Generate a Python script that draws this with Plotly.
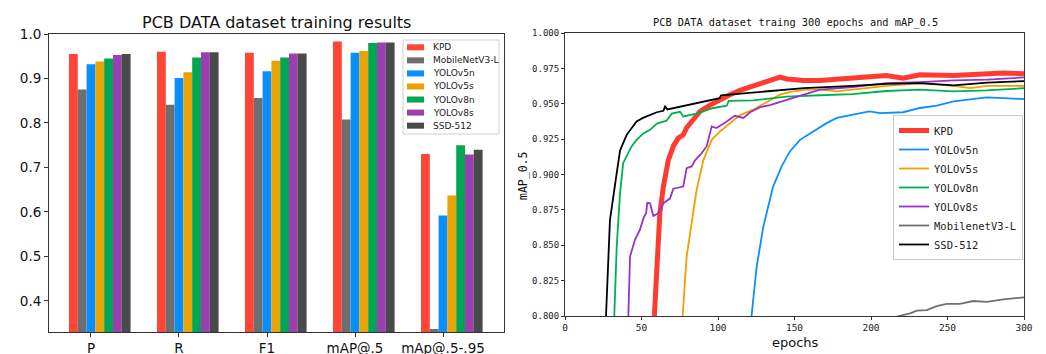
import plotly.graph_objects as go

# ---------------- Left chart data (bar) ----------------
metrics = ["P", "R", "F1", "mAP@.5", "mAp@.5-.95"]
bar_models = ["KPD", "MobileNetV3-L", "YOLOv5n", "YOLOv5s", "YOLOv8n", "YOLOv8s", "SSD-512"]
bar_kpd = [0.955, 0.960, 0.958, 0.983, 0.730]
bar_mobilenet = [0.875, 0.841, 0.856, 0.808, 0.337]
bar_yolov5n = [0.932, 0.901, 0.916, 0.958, 0.592]
bar_yolov5s = [0.938, 0.914, 0.940, 0.962, 0.637]
bar_yolov8n = [0.945, 0.947, 0.947, 0.980, 0.750]
bar_yolov8s = [0.953, 0.959, 0.956, 0.981, 0.729]
bar_ssd = [0.955, 0.959, 0.956, 0.981, 0.740]
bar_values = [bar_kpd, bar_mobilenet, bar_yolov5n, bar_yolov5s, bar_yolov8n, bar_yolov8s, bar_ssd]
bar_colors = ["#ff4636", "#6e6e6e", "#0a8fff", "#e8a202", "#00a651", "#9b3fb0", "#4a4a4a"]

# ---------------- Right chart data (lines) ----------------
ep_kpd = [56, 58.4, 62, 64.3, 67.5, 70.8, 74, 77.3, 79.5, 83.9, 88.2, 94.8, 101, 107.8, 114.4, 123,
          131.8, 140.5, 145, 156, 166.7, 188, 199, 210, 221, 232, 254, 276, 286.5, 300]
map_kpd = [0.77, 0.800, 0.8726, 0.8915, 0.910, 0.920, 0.9257, 0.928, 0.933, 0.9387, 0.9446, 0.949,
           0.953, 0.9564, 0.9594, 0.9627, 0.9658, 0.9689, 0.9675, 0.9665, 0.9665, 0.968, 0.9689,
           0.970, 0.968, 0.9705, 0.970, 0.9712, 0.9717, 0.9712]

ep_v5n = [119, 122, 125.3, 129.6, 136, 141.6, 147, 153.6, 162.3, 171, 177.6, 188.5, 199, 206, 221,
          232, 243, 254, 264.7, 275.6, 286.5, 300]
map_v5n = [0.77, 0.800, 0.835, 0.863, 0.8915, 0.9057, 0.9163, 0.9245, 0.9304, 0.9363, 0.940, 0.9422,
           0.9446, 0.9434, 0.944, 0.947, 0.9486, 0.9517, 0.953, 0.9545, 0.954, 0.9533]

ep_v5s = [74, 76.9, 79.5, 81.7, 86, 90.4, 95.9, 101.3, 107.8, 114.4, 123, 131.8, 140.5, 149, 158,
          166.7, 177.6, 188, 210, 232, 254, 264.7, 276, 300]
map_v5s = [0.77, 0.800, 0.842, 0.8585, 0.889, 0.910, 0.9245, 0.9304, 0.9363, 0.942, 0.9458, 0.951,
           0.9564, 0.9587, 0.960, 0.960, 0.9587, 0.960, 0.9627, 0.9646, 0.9627, 0.961, 0.9627, 0.9627]

ep_v8n = [30, 32.2, 33.8, 36, 38, 40.3, 43.6, 46.8, 51.2, 55.6, 60, 66.4, 69.7, 75.2, 77.3, 86, 97,
          105.7, 107, 123, 145, 166.7, 188, 210, 232, 254, 275.6, 300]
map_v8n = [0.77, 0.800, 0.849, 0.887, 0.908, 0.913, 0.920, 0.9245, 0.929, 0.9316, 0.936, 0.938,
           0.943, 0.9443, 0.941, 0.943, 0.947, 0.9486, 0.952, 0.9524, 0.955, 0.956, 0.9568, 0.959,
           0.960, 0.9587, 0.9594, 0.961]

ep_v8s = [39, 41.4, 42.5, 45.8, 49, 51.2, 53, 53.8, 55.6, 57.7, 61, 64.3, 68.6, 70.8, 77.3, 79.5,
          82.8, 85, 89.3, 92.6, 95.9, 99, 105.7, 111, 116.6, 121, 127.5, 134, 145, 155.8, 166.7,
          188, 199, 210, 232, 254, 276, 300]
map_v8s = [0.77, 0.800, 0.842, 0.854, 0.861, 0.869, 0.8726, 0.880, 0.8797, 0.8708, 0.8726, 0.8797,
           0.883, 0.890, 0.8915, 0.9045, 0.9057, 0.910, 0.915, 0.920, 0.934, 0.9328, 0.9375, 0.9415,
           0.940, 0.944, 0.9476, 0.949, 0.9528, 0.9564, 0.960, 0.9618, 0.9634, 0.9646, 0.9653,
           0.9665, 0.967, 0.9686]

ep_mob = [200, 218, 225.5, 230, 236.4, 243, 249.5, 258, 267, 275.6, 286.5, 300]
map_mob = [0.795, 0.800, 0.8019, 0.8038, 0.8042, 0.807, 0.8085, 0.8085, 0.8106, 0.810, 0.8118, 0.8132]

ep_ssd = [24, 26.8, 29.4, 31.5, 33.8, 36, 38, 40.3, 43, 46.8, 51, 55.6, 60, 64.3, 65.4, 67, 75, 84,
          92.6, 101, 102, 112, 134, 156, 188, 210, 232, 254, 276, 300]
map_ssd = [0.77, 0.800, 0.868, 0.885, 0.901, 0.917, 0.922, 0.928, 0.932, 0.9375, 0.940, 0.942,
           0.944, 0.945, 0.948, 0.946, 0.948, 0.950, 0.952, 0.954, 0.956, 0.957, 0.959, 0.961,
           0.9627, 0.964, 0.9646, 0.963, 0.965, 0.966]

line_series = [
    ("KPD", ep_kpd, map_kpd, "#ff3b30", 5),
    ("YOLOv5n", ep_v5n, map_v5n, "#0a8fff", 1.8),
    ("YOLOv5s", ep_v5s, map_v5s, "#f0a000", 1.8),
    ("YOLOv8n", ep_v8n, map_v8n, "#00b050", 1.8),
    ("YOLOv8s", ep_v8s, map_v8s, "#9932cc", 1.8),
    ("MobilenetV3-L", ep_mob, map_mob, "#707070", 1.8),
    ("SSD-512", ep_ssd, map_ssd, "#000000", 1.8),
]

# page body adds an 8px margin; figure is sized to fill the rest of the window
OFF = 8
W, H = 1046 - OFF, 354 - OFF


def px(x):
    return (x - OFF) / W


def py(y):
    return 1 - (y - OFF) / H


fig = go.Figure()

for i, (name, vals, col) in enumerate(zip(bar_models, bar_values, bar_colors)):
    fig.add_trace(go.Bar(
        x=metrics, y=vals, name=name, marker=dict(color=col, line=dict(width=0)),
        width=0.1, offset=(i - 2.5) * 0.1, xaxis="x", yaxis="y", showlegend=False,
    ))

mono = "DejaVu Sans Mono"
for name, ex, ey, col, lw in line_series:
    fig.add_trace(go.Scatter(
        x=ex, y=ey, mode="lines", name=name, line=dict(color=col, width=lw),
        xaxis="x2", yaxis="y2", legend="legend2",
    ))

# compact legend for the bar chart (matplotlib-like spacing)
shapes = []
annotations = []
lg_left, lg_top, lg_right, lg_bottom = 403, 40, 499, 134
shapes.append(dict(type="rect", xref="paper", yref="paper",
                   x0=px(lg_left), x1=px(lg_right), y0=py(lg_bottom), y1=py(lg_top),
                   line=dict(color="#d0d0d0", width=1), fillcolor="rgba(255,255,255,0.85)", layer="above"))
for i, (name, col) in enumerate(zip(bar_models, bar_colors)):
    yc = 47.3 + i * 13.06
    shapes.append(dict(type="rect", xref="paper", yref="paper",
                       x0=px(407), x1=px(424), y0=py(yc + 3), y1=py(yc - 3),
                       line=dict(width=0), fillcolor=col, layer="above"))
    annotations.append(dict(text=name, x=px(431), y=py(yc), xref="paper", yref="paper",
                            xanchor="left", yanchor="middle", showarrow=False,
                            font=dict(size=9, family="DejaVu Sans", color="#222")))

axcol = "#333333"
annotations += [
    dict(text="PCB DATA dataset training results", x=px(276), y=py(22), font=dict(size=16, family="DejaVu Sans", color="#111")),
    dict(text="PCB DATA dataset traing 300 epochs and mAP_0.5", x=px(795), y=py(23),
         font=dict(size=10.3, family=mono, color="#111")),
    dict(text="epochs", x=px(795), y=py(342), font=dict(size=13, family="DejaVu Sans", color="#111")),
    dict(text="mAP_0.5", x=px(523), y=py(176), textangle=-90,
         font=dict(size=11.5, family=mono, color="#111")),
]
for a in annotations[-4:]:
    a.update(xref="paper", yref="paper", showarrow=False, xanchor="center", yanchor="middle")

common = dict(showline=True, mirror=True, linecolor=axcol, linewidth=1, ticks="outside",
              tickcolor=axcol, showgrid=False, zeroline=False, automargin=False)

fig.update_layout(
    template="none",
    width=W, height=H, margin=dict(l=0, r=0, t=0, b=0, autoexpand=False),
    paper_bgcolor="white", plot_bgcolor="white", barmode="overlay",
    font=dict(family="DejaVu Sans", color="#222222"),
    xaxis=dict(domain=[px(49), px(504)], anchor="y", type="category", range=[-0.477, 4.693],
               ticklen=4, tickfont=dict(size=13.5, family="DejaVu Sans", color="#111"), **common),
    yaxis=dict(domain=[py(332), py(34)], anchor="x", range=[0.33, 1.0],
               tickvals=[0.4, 0.5, 0.6, 0.7, 0.8, 0.9, 1.0], tickformat=".1f", ticklen=4,
               tickfont=dict(size=13.5, family="DejaVu Sans", color="#111"), **common),
    xaxis2=dict(domain=[px(565), px(1024)], anchor="y2", range=[0, 300],
                tickvals=[0, 50, 100, 150, 200, 250, 300], ticklen=3,
                tickfont=dict(size=9.5, family=mono, color="#222"), **common),
    yaxis2=dict(domain=[py(316), py(33)], anchor="x2", range=[0.8, 1.0],
                tickvals=[0.8, 0.825, 0.85, 0.875, 0.9, 0.925, 0.95, 0.975, 1.0], tickformat=".3f",
                ticklen=3, tickfont=dict(size=9, family=mono, color="#222"), **common),
    legend2=dict(x=px(893), y=py(115), xanchor="left", yanchor="top",
                 bgcolor="white", bordercolor="#cccccc", borderwidth=1,
                 font=dict(size=10.5, family=mono, color="#222"), itemwidth=30),
    shapes=shapes,
    annotations=annotations,
)

fig.write_html("out.html")
